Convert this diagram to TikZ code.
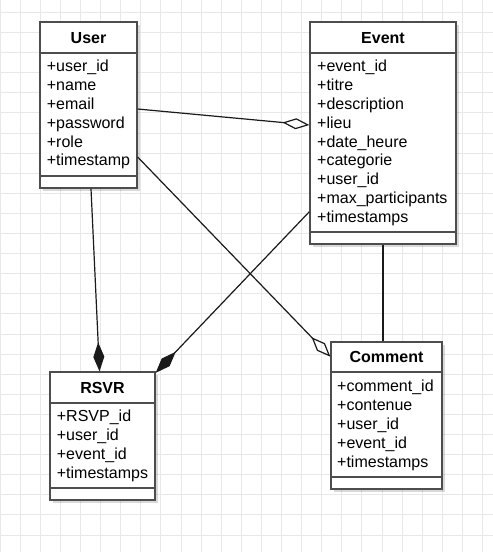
\documentclass[tikz,border=0pt]{standalone}
\usepackage{fontspec}
\setmainfont{Liberation Sans}
\usetikzlibrary{arrows.meta,calc,shadows}
\definecolor{Border}{HTML}{4D4D4D}
\definecolor{Wire}{HTML}{1A1A1A}
\definecolor{GridGray}{HTML}{E8E8E8}

\begin{document}
\begin{tikzpicture}[x=1pt,y=-1pt,
  classbox/.style={draw=Border,line width=1.3pt,fill=white,inner sep=0pt,drop shadow={shadow xshift=2.5pt,shadow yshift=-2.5pt,opacity=0.15,fill=black}},
  classtitle/.style={font=\fontsize{16}{19}\selectfont\bfseries,inner sep=0pt},
  attrs/.style={font=\fontsize{16}{18.8}\selectfont,align=left,inner sep=0pt,anchor=north west},
  sep/.style={draw=Border,line width=1.3pt},
  gridline/.style={draw=GridGray,line width=0.8pt},
  link/.style={draw=Wire,line width=1.2pt},
  aggr/.style={link,-{Diamond[open,length=27pt,width=11pt]}},
  comp/.style={link,-{Diamond[length=29pt,width=11pt]}}
]
% page and grid
\fill[white] (0,0) rectangle (493,552);
\useasboundingbox (0,0) rectangle (493,552);
\foreach \i in {0,...,24} \draw[gridline] (20.1*\i,0) -- (20.1*\i,552);
\foreach \j in {0,...,26} \draw[gridline] (0,12.3+20.1*\j) -- (493,12.3+20.1*\j);

% classes
\node[classbox,minimum width=97pt,minimum height=166pt] (user) at (88.5,105) {};
\node[classtitle] (usertitle) at (88.5,37.7) {User};
\draw[sep] (user.west |- 0,53) -- (user.east |- 0,53);
\draw[sep] (user.west |- 0,176) -- (user.east |- 0,176);
\node[attrs] (userattrs) at (46.7,58.5) {\strut+user\_id\\+name\\+email\\+password\\+role\\+timestamp};

\node[classbox,minimum width=146pt,minimum height=222pt] (event) at (383,133) {};
\node[classtitle] (eventtitle) at (383,37.7) {Event};
\draw[sep] (event.west |- 0,53) -- (event.east |- 0,53);
\draw[sep] (event.west |- 0,232) -- (event.east |- 0,232);
\node[attrs] (eventattrs) at (317,58.5) {\strut+event\_id\\+titre\\+description\\+lieu\\+date\_heure\\+categorie\\+user\_id\\+max\_participants\\+timestamps};

\node[classbox,minimum width=105pt,minimum height=128pt] (rsvr) at (102.5,436) {};
\node[classtitle] (rsvrtitle) at (102.5,387.5) {RSVR};
\draw[sep] (rsvr.west |- 0,403) -- (rsvr.east |- 0,403);
\draw[sep] (rsvr.west |- 0,488) -- (rsvr.east |- 0,488);
\node[attrs] (rsvrattrs) at (56.7,408.5) {\strut+RSVP\_id\\+user\_id\\+event\_id\\+timestamps};

\node[classbox,minimum width=111pt,minimum height=147pt] (comment) at (386.5,415.5) {};
\node[classtitle] (commenttitle) at (386.5,357.3) {Comment};
\draw[sep] (comment.west |- 0,372) -- (comment.east |- 0,372);
\draw[sep] (comment.west |- 0,477) -- (comment.east |- 0,477);
\node[attrs] (commentattrs) at (337,378.5) {\strut+comment\_id\\+contenue\\+user\_id\\+event\_id\\+timestamps};

% relations
\draw[aggr] ($(user.east)+(0,4)$) -- ($(event.west)+(0,-8)$);
\draw[aggr] ($(user.east)+(0,52)$) -- ($(comment.west)+(0,-58.8)$);
\draw[comp] ($(user.south)+(2.5,0)$) -- ($(rsvr.north)+(-3,0)$);
\draw[comp] ($(event.west)+(0,78.7)$) -- ($(rsvr.north east)+(0,1.5)$);
\draw[link] (event.south) -- (event.south |- comment.north);
\end{tikzpicture}
\end{document}
